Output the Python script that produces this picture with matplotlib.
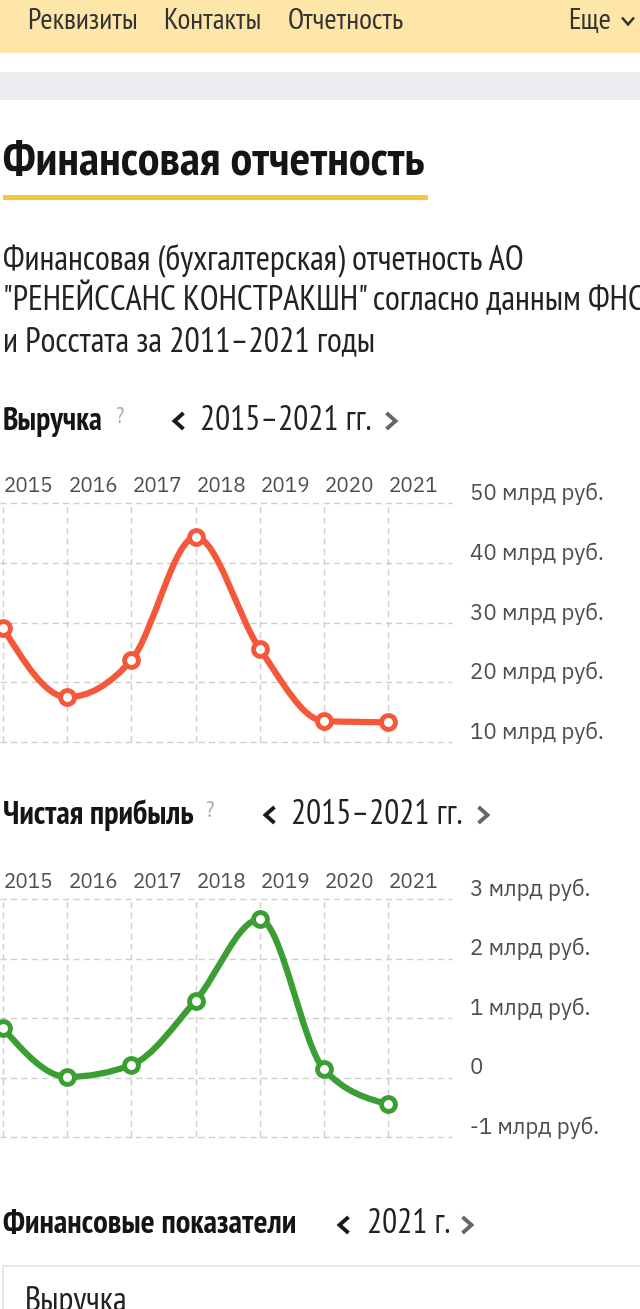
import numpy as np
import matplotlib
matplotlib.use("Agg")
import matplotlib.pyplot as plt
from matplotlib import font_manager as fm
from matplotlib import transforms as mtransforms
from matplotlib.path import Path
from matplotlib.patches import PathPatch, Rectangle
from matplotlib.lines import Line2D

# ---------------- data ----------------
years = [2015, 2016, 2017, 2018, 2019, 2020, 2021]
year_labels = ["2015", "2016", "2017", "2018", "2019", "2020", "2021"]
revenue = [29.1, 17.5, 23.7, 44.3, 25.6, 13.5, 13.3]          # млрд руб.
revenue_ticks = [10, 20, 30, 40, 50]
revenue_tick_labels = ["10 млрд руб.", "20 млрд руб.", "30 млрд руб.", "40 млрд руб.", "50 млрд руб."]
profit = [0.83, 0.01, 0.21, 1.29, 2.66, 0.14, -0.45]          # млрд руб.
profit_ticks = [-1, 0, 1, 2, 3]
profit_tick_labels = ["-1 млрд руб.", "0", "1 млрд руб.", "2 млрд руб.", "3 млрд руб."]

nav_items = ["Реквизиты", "Контакты", "Отчетность"]
page_title = "Финансовая отчетность"
para_lines = ["Финансовая (бухгалтерская) отчетность АО",
              "\"РЕНЕЙССАНС КОНСТРАКШН\" согласно данным ФНС",
              "и Росстата за 2011\u20132021 годы"]

# ---------------- helpers ----------------
W, H = 640, 1309
fig = plt.figure(figsize=(W / 100, H / 100), dpi=100)
fig.patch.set_facecolor("white")
renderer = fig.canvas.get_renderer()


def fx(x):
    return x / W


def fy(y):
    return 1 - y / H


def pick(cands):
    for c in cands:
        try:
            fm.findfont(fm.FontProperties(family=c), fallback_to_default=False)
            return c
        except Exception:
            pass
    return "DejaVu Sans"


UI = pick(["Liberation Sans Narrow", "PT Sans Narrow", "Roboto Condensed", "Open Sans Condensed", "Roboto"])
CH = pick(["IBM Plex Sans", "Roboto", "Noto Sans"])


def fit(text, family, weight, target):
    t = fig.text(0, 0, text, fontsize=20, family=family, weight=weight)
    w = t.get_window_extent(renderer).width
    t.remove()
    return 20 * target / w


def txt(x, y, s, size, family=UI, weight="normal", color="#222222", ha="left", va="baseline"):
    fig.text(fx(x), fy(y), s, fontsize=size, family=family, weight=weight,
             color=color, ha=ha, va=va)


def chevron(cx, cy, w, h, direction, color, lw=2.2):
    if direction == "left":
        xs = [cx + w / 2, cx - w / 2, cx + w / 2]
        ys = [cy - h / 2, cy, cy + h / 2]
    elif direction == "right":
        xs = [cx - w / 2, cx + w / 2, cx - w / 2]
        ys = [cy - h / 2, cy, cy + h / 2]
    else:  # down
        xs = [cx - w / 2, cx, cx + w / 2]
        ys = [cy - h / 2, cy + h / 2, cy - h / 2]
    fig.add_artist(Line2D([fx(v) for v in xs], [fy(v) for v in ys], transform=fig.transFigure,
                          color=color, lw=lw, solid_joinstyle="miter", solid_capstyle="butt"))


def rect(x0, y0, x1, y1, **kw):
    fig.add_artist(Rectangle((fx(x0), fy(y1)), fx(x1) - fx(x0), fy(y0) - fy(y1),
                             transform=fig.transFigure, **kw))


def monotone_path(x, y):
    x = np.asarray(x, float)
    y = np.asarray(y, float)
    n = len(x)
    h = np.diff(x)
    s = np.diff(y) / h
    t = np.zeros(n)
    for i in range(1, n - 1):
        s0, s1, h0, h1 = s[i - 1], s[i], h[i - 1], h[i]
        p = (s0 * h1 + s1 * h0) / (h0 + h1)
        t[i] = (np.sign(s0) + np.sign(s1)) * min(abs(s0), abs(s1), 0.5 * abs(p))
    t[0] = (3 * s[0] - t[1]) / 2
    t[-1] = (3 * s[-1] - t[-2]) / 2
    verts = [(x[0], y[0])]
    codes = [Path.MOVETO]
    for i in range(n - 1):
        d = h[i] / 3
        verts += [(x[i] + d, y[i] + t[i] * d), (x[i + 1] - d, y[i + 1] - t[i + 1] * d), (x[i + 1], y[i + 1])]
        codes += [Path.CURVE4] * 3
    return Path(verts, codes)


# ---------------- page chrome ----------------
rect(0, 0, 640, 52.5, facecolor="#FDE6A8", edgecolor="none")
rect(0, 72.5, 640, 100, facecolor="#ECEDF1", edgecolor="none")

nav_size = fit("Реквизиты", UI, "normal", 110)
for x, s in zip([27, 163, 288], nav_items):
    txt(x, 29, s, nav_size, color="#333333")
txt(568, 29, "Еще", nav_size, color="#333333")
chevron(628, 21, 12, 7, "down", "#333333", lw=1.8)

title_size = fit(page_title, UI, "bold", 423)
txt(3, 175, page_title, title_size, weight="bold", color="#151515")
rect(3, 195, 428, 200, facecolor="#F4C73F", edgecolor="none")

para_size = fit(para_lines[0], UI, "normal", 521)
for y, s in zip([269, 310, 351], para_lines):
    txt(3, y, s, para_size, color="#222222")

per_size = fit("2015\u20132021 гг.", UI, "normal", 171)

# ---------------- charts ----------------
GRID = "#CFCFCF"
LABEL = "#4D4D4D"
year_size = fit("2015", CH, "normal", 50)
tick_size = fit("50 млрд руб.", CH, "normal", 134)


def chart(top, bottom, heading, head_w, qx, chev_l, chev_r, per_x, values, ticks, tick_labels, color, ytitle):
    # heading row
    hs = fit(heading, UI, "bold", head_w)
    txt(3, ytitle, heading, hs, weight="bold", color="#151515")
    txt(qx, ytitle - 7, "?", hs * 0.72, color="#AAAAAA")
    chevron(chev_l, ytitle - 9, 9, 16, "left", "#1A1A1A", lw=2.8)
    txt(per_x, ytitle, "2015\u20132021 гг.", per_size, color="#222222")
    chevron(chev_r, ytitle - 9, 9, 16, "right", "#666666", lw=2.8)

    # plotting area: year 2015 at x=3px, 2021 at x=388px, right edge 452px
    ppy = (388 - 3) / 6
    ax = fig.add_axes([fx(0), fy(bottom), fx(452), (bottom - top) / H])
    ax.set_xlim(years[0] - 3 / ppy, years[0] + 449 / ppy)
    ax.set_ylim(ticks[0], ticks[-1])
    ax.axis("off")
    for v in ticks:
        ax.axhline(v, color=GRID, lw=1.0, dashes=(4.5, 3), clip_on=False, zorder=1)
    for yr in years:
        ax.axvline(yr, color=GRID, lw=1.0, dashes=(4.5, 3), clip_on=False, zorder=1)

    path = monotone_path(years, values)
    ax.add_patch(PathPatch(path, facecolor="none", edgecolor=color, lw=4.5,
                           capstyle="round", joinstyle="round", clip_on=False, zorder=3))
    ax.plot(years, values, "o", ms=10, mfc="white", mec=color, mew=3.5, clip_on=False, zorder=4)

    # year labels (left-aligned on the grid lines, above the plot)
    tr_x = mtransforms.blended_transform_factory(ax.transData, fig.transFigure)
    for yr, lab in zip(years, year_labels):
        ax.text(yr + 1 / ppy, fy(top - 11), lab, transform=tr_x, ha="left", va="baseline",
                fontsize=year_size, family=CH, color=LABEL)
    # value labels on the right
    tr_y = mtransforms.blended_transform_factory(fig.transFigure, ax.transData) + \
        mtransforms.ScaledTranslation(0, 3 / 100, fig.dpi_scale_trans)
    for v, lab in zip(ticks, tick_labels):
        ax.text(fx(470), v, lab, transform=tr_y, ha="left", va="baseline",
                fontsize=tick_size, family=CH, color=LABEL)
    return ax


chart(503, 742, "Выручка", 100, 115, 179, 391, 200, revenue,
      revenue_ticks, revenue_tick_labels, "#F4573A", 430)
chart(899, 1137, "Чистая прибыль", 192, 205, 270, 483, 291, profit,
      profit_ticks, profit_tick_labels, "#3B9E33", 824)

# ---------------- bottom section ----------------
hs3 = fit("Финансовые показатели", UI, "bold", 294)
txt(3, 1233, "Финансовые показатели", hs3, weight="bold", color="#151515")
chevron(344, 1225, 9, 16, "left", "#1A1A1A", lw=2.8)
txt(367, 1233, "2021 г.", per_size, color="#222222")
chevron(467, 1225, 9, 16, "right", "#666666", lw=2.8)
rect(3, 1266, 660, 1360, facecolor="white", edgecolor="#E3E3E3", lw=1.2)
txt(25, 1311, "Выручка", para_size, color="#222222")

fig.savefig("out.png", dpi=100, facecolor="white")
